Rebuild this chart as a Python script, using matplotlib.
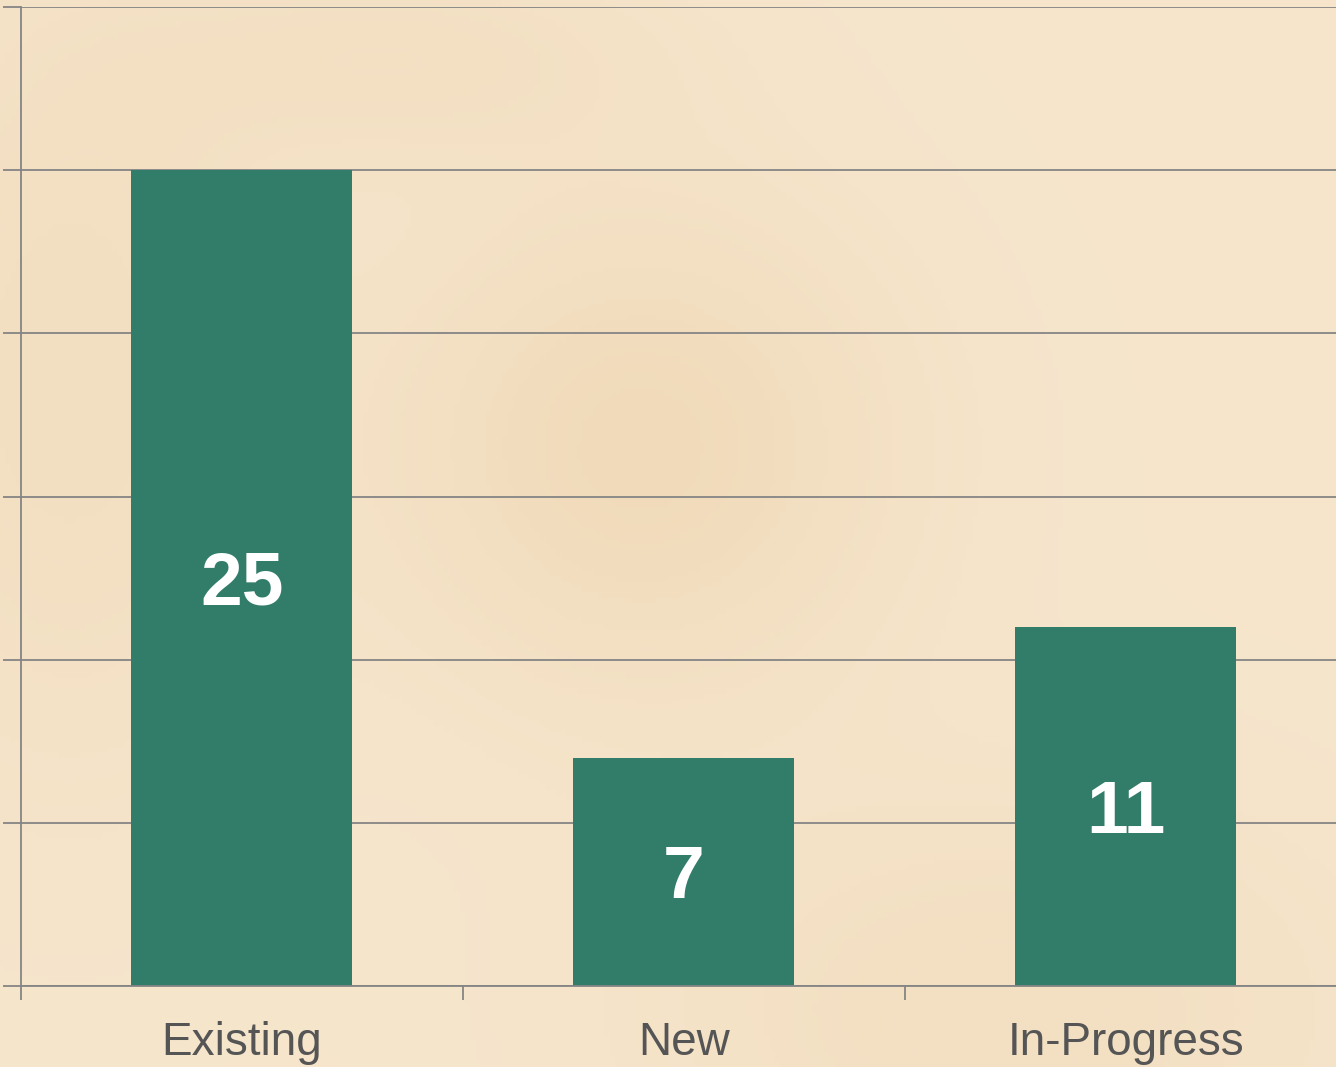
import numpy as np
import matplotlib
matplotlib.use("Agg")
import matplotlib.pyplot as plt

categories = ["Existing", "New", "In-Progress"]
values = [25, 7, 11]
value_labels = ["25", "7", "11"]
y_ticks = [0, 5, 10, 15, 20, 25, 30]

W, H = 1336, 1067
fig = plt.figure(figsize=(W / 100, H / 100), dpi=100)

# parchment background
bg = fig.add_axes([0, 0, 1, 1], zorder=0)
yy, xx = np.mgrid[0:1:200j, 0:1:250j]
base = np.array([0.965, 0.900, 0.800])
dark = np.array([0.925, 0.820, 0.670])
blob = (0.55 * np.exp(-(((xx - 0.48) / 0.18) ** 2 + ((yy - 0.42) / 0.22) ** 2))
        + 0.35 * np.exp(-(((xx - 0.05) / 0.15) ** 2 + ((yy - 0.35) / 0.35) ** 2))
        + 0.30 * np.exp(-(((xx - 0.75) / 0.25) ** 2 + ((yy - 0.95) / 0.2) ** 2))
        + 0.25 * np.exp(-(((xx - 0.3) / 0.2) ** 2 + ((yy - 0.05) / 0.1) ** 2)))
blob = np.clip(blob, 0, 1)[..., None]
img = base * (1 - blob) + dark * blob
bg.imshow(img, extent=[0, 1, 0, 1], aspect="auto", origin="upper")
bg.set_axis_off()

left = 21 / W
bottom = (H - 986) / H
width = 3 * 442 / W
height = (986 - 7) / H
ax = fig.add_axes([left, bottom, width, height], zorder=1)
ax.patch.set_alpha(0)

x = np.arange(len(categories))
bar_color = "#327D6A"
ax.bar(x, values, width=0.5, color=bar_color, zorder=2)

ax.set_xlim(-0.5, len(categories) - 0.5)
ax.set_ylim(0, 30)
ax.set_yticks(y_ticks)
ax.set_yticklabels([])
ax.yaxis.grid(True, color="#858585", linewidth=1.3, zorder=1)
ax.set_axisbelow(True)

ax.set_xticks(x)
ax.set_xticklabels(categories, fontsize=33, color="#555555", fontfamily="Liberation Sans")
ax.set_xticks(np.arange(len(categories)) - 0.5, minor=True)
ax.tick_params(axis="x", which="major", length=0, pad=25)
ax.tick_params(axis="x", which="minor", length=10, width=1.3, color="#858585", direction="out")
ax.tick_params(axis="y", which="major", length=13, width=1.3, color="#858585", direction="out")

for s in ["top", "right"]:
    ax.spines[s].set_visible(False)
for s in ["left", "bottom"]:
    ax.spines[s].set_color("#858585")
    ax.spines[s].set_linewidth(1.3)

for xi, v, lab in zip(x, values, value_labels):
    ax.annotate(lab, xy=(xi, v / 2), xytext=(0, -5), textcoords="offset points",
                ha="center", va="center", color="white",
                fontsize=54, fontweight="bold", fontfamily="Liberation Sans", zorder=3)

fig.savefig("out.png", dpi=100)
